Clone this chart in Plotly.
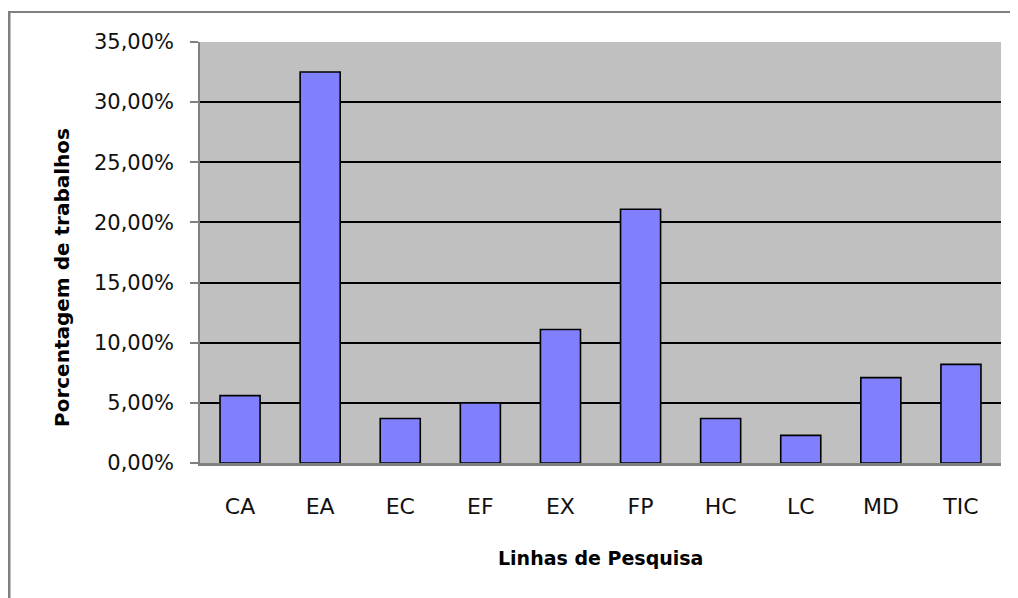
import plotly.graph_objects as go

categories = ["CA", "EA", "EC", "EF", "EX", "FP", "HC", "LC", "MD", "TIC"]
values = [5.6, 32.5, 3.7, 5.0, 11.1, 21.1, 3.7, 2.3, 7.1, 8.2]
tick_vals = [0, 5, 10, 15, 20, 25, 30, 35]
tick_text = ["0,00%", "5,00%", "10,00%", "15,00%", "20,00%", "25,00%", "30,00%", "35,00%"]

OFF = 8  # page body margin
W, H = 1018 - OFF, 598 - OFF
L, T = 200 - OFF, 42 - OFF
R = W - (1001 - OFF)
B = H - (463 - OFF)
pw, ph = W - L - R, H - T - B

def px_x(x):
    return (x - OFF - L) / pw

def px_y(y):
    return (H - B - (y - OFF)) / ph

fig = go.Figure(go.Bar(
    x=categories, y=values,
    marker=dict(color="#8080FF", line=dict(color="black", width=1.6)),
    width=0.5,
))

font_family = "DejaVu Sans"
fig.update_layout(
    width=W, height=H,
    margin=dict(l=L, r=R, t=T, b=B),
    paper_bgcolor="white",
    plot_bgcolor="#C0C0C0",
    showlegend=False,
    font=dict(family=font_family, color="black"),
    xaxis=dict(
        showgrid=False, showline=True, linecolor="#808080", linewidth=3,
        ticks="", tickfont=dict(size=22, family=font_family, color="#111111"),
        ticklabelstandoff=22, range=[-0.5, 9.5],
    ),
    yaxis=dict(
        range=[0, 35], tickvals=tick_vals, ticktext=tick_text,
        showgrid=True, gridcolor="black", gridwidth=1.5,
        showline=True, linecolor="#808080", linewidth=1.5,
        ticks="outside", ticklen=8, tickcolor="#808080", tickwidth=1.5,
        tickfont=dict(size=21, family=font_family, color="#111111"),
        ticklabelstandoff=12,
        zeroline=False,
    ),
    annotations=[
        dict(text="<b>Porcentagem de trabalhos</b>", textangle=-90,
             x=px_x(62), y=px_y(278), xref="paper", yref="paper",
             xanchor="center", yanchor="middle",
             showarrow=False, font=dict(size=20, family=font_family)),
        dict(text="<b>Linhas de Pesquisa</b>",
             x=px_x(600), y=px_y(558), xref="paper", yref="paper",
             xanchor="center", yanchor="middle",
             showarrow=False, font=dict(size=19, family=font_family)),
    ],
    shapes=[
        dict(type="line", xref="paper", yref="paper",
             x0=px_x(9), x1=px_x(9), y0=px_y(12), y1=px_y(600),
             line=dict(color="#808080", width=3)),
        dict(type="line", xref="paper", yref="paper",
             x0=px_x(8), x1=px_x(1018), y0=px_y(12), y1=px_y(12),
             line=dict(color="#808080", width=2)),
    ],
)

fig.write_html("out.html")
